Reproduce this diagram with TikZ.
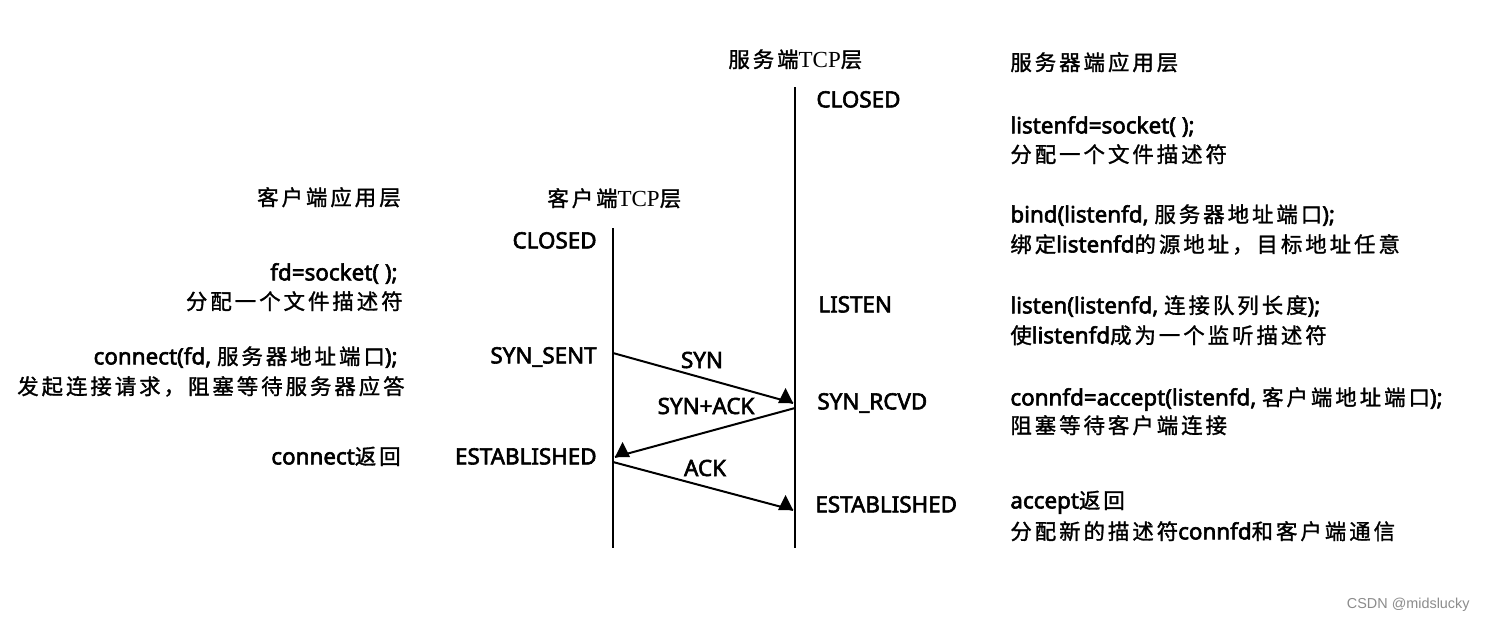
\documentclass[tikz,border=0pt]{standalone}
\usepackage{fontspec}
\setmainfont{Noto Sans}
\newfontfamily\latfont{Noto Sans}[FakeBold=2.6]
\newfontfamily\zhfont{Noto Sans CJK SC}[LetterSpace=14,FakeBold=1.4]
\newfontfamily\serfont{Liberation Serif}
\newfontfamily\wmfont{Liberation Sans}
\newcommand\zh[1]{{\zhfont\fontsize{10.7}{12}\selectfont #1}}
\newcommand\tcp{{\serfont\fontsize{11.5}{12}\selectfont TCP}}
\begin{document}
\begin{tikzpicture}[x=0.5pt,y=-0.5pt,
  lbl/.style={font=\latfont\fontsize{11.2}{13}\selectfont, inner sep=0pt},
  hdr/.style={inner sep=0pt},
  life/.style={line width=1.3pt},
  msg/.style={line width=1pt},
  tip/.style={fill=black}]
\fill[white] (0,0) rectangle (1486,618);
\useasboundingbox (0,0) rectangle (1486,618);

% lifelines
\coordinate (ct) at (613,228);
\coordinate (cb) at (613,548);
\coordinate (st) at (795,87);
\coordinate (sb) at (795,548);
\draw[life] (ct) -- (cb);
\draw[life] (st) -- (sb);

% message end points
\coordinate (c1) at (613,353);
\coordinate (s1) at (793,403);
\coordinate (s2) at (795,408);
\coordinate (c2) at (615,457);
\coordinate (c3) at (613,462);
\coordinate (s3) at (793,510);

\draw[msg] (c1) -- (s1);
\fill[tip] (s1) -- ++(-15,0) -- ++(7.5,-15) -- cycle;
\draw[msg] (s2) -- (c2);
\fill[tip] (c2) -- ++(15,0) -- ++(-7.5,-15) -- cycle;
\draw[msg] (c3) -- (s3);
\fill[tip] (s3) -- ++(-15,0) -- ++(7.5,-15) -- cycle;

\node[lbl] (syn) at (702,360) {SYN};
\node[lbl] (synack) at (706,406) {SYN+ACK};
\node[lbl] (ack) at (705,468) {ACK};

% headers
\node[hdr, anchor=mid west] (hsrvtcp) at (728,62) {\zh{服务端}\tcp\zh{层}};
\node[hdr, anchor=mid west] (hsrvapp) at (1010,65) {\zh{服务器端应用层}};
\node[hdr, anchor=mid east] (hcliapp) at (401,200) {\zh{客户端应用层}};
\node[hdr, anchor=mid west] (hclitcp) at (547,201) {\zh{客户端}\tcp\zh{层}};

% server states
\node[lbl, anchor=mid west] (sclosed) at (816,102) {CLOSED};
\node[lbl, anchor=mid west] (slisten) at (818,307) {LISTEN};
\node[lbl, anchor=mid west] (srcvd) at (817,404) {SYN\_RCVD};
\node[lbl, anchor=mid west] (sest) at (815,507) {ESTABLISHED};

% client states
\node[lbl, anchor=mid east] (cclosed) at (597,243) {CLOSED};
\node[lbl, anchor=mid east] (csent) at (597,358) {SYN\_SENT};
\node[lbl, anchor=mid east] (cest) at (597,459) {ESTABLISHED};

% server application
\node[lbl, anchor=mid west] (a1) at (1010,128) {listenfd=socket( );};
\node[lbl, anchor=mid west] (a2) at (1010,157) {\zh{分配一个文件描述符}};
\node[lbl, anchor=mid west] (a3) at (1010,217) {bind(listenfd, \zh{服务器地址端口});};
\node[lbl, anchor=mid west] (a4) at (1010,247) {\zh{绑定}listenfd\zh{的源地址，目标地址任意}};
\node[lbl, anchor=mid west] (a5) at (1010,308) {listen(listenfd, \zh{连接队列长度});};
\node[lbl, anchor=mid west] (a6) at (1010,338) {\zh{使}listenfd\zh{成为一个监听描述符}};
\node[lbl, anchor=mid west] (a7) at (1010,400) {connfd=accept(listenfd, \zh{客户端地址端口});};
\node[lbl, anchor=mid west] (a8) at (1010,428) {\zh{阻塞等待客户端连接}};
\node[lbl, anchor=mid west] (a9) at (1010,503) {accept\zh{返回}};
\node[lbl, anchor=mid west] (a10) at (1010,534) {\zh{分配新的描述符}connfd\zh{和客户端通信}};

% client application
\node[lbl, anchor=mid east] (b1) at (398,275) {fd=socket( );};
\node[lbl, anchor=mid east] (b2) at (403,304) {\zh{分配一个文件描述符}};
\node[lbl, anchor=mid east] (b3) at (398,359) {connect(fd, \zh{服务器地址端口});};
\node[lbl, anchor=mid east] (b4) at (405,389) {\zh{发起连接请求，阻塞等待服务器应答}};
\node[lbl, anchor=mid east] (b5) at (401,459) {connect\zh{返回}};

% watermark
\node[inner sep=0pt, anchor=mid east, text=black!45, font=\wmfont\fontsize{7.2}{9}\selectfont] (wm) at (1470,603) {CSDN @midslucky};
\end{tikzpicture}
\end{document}
